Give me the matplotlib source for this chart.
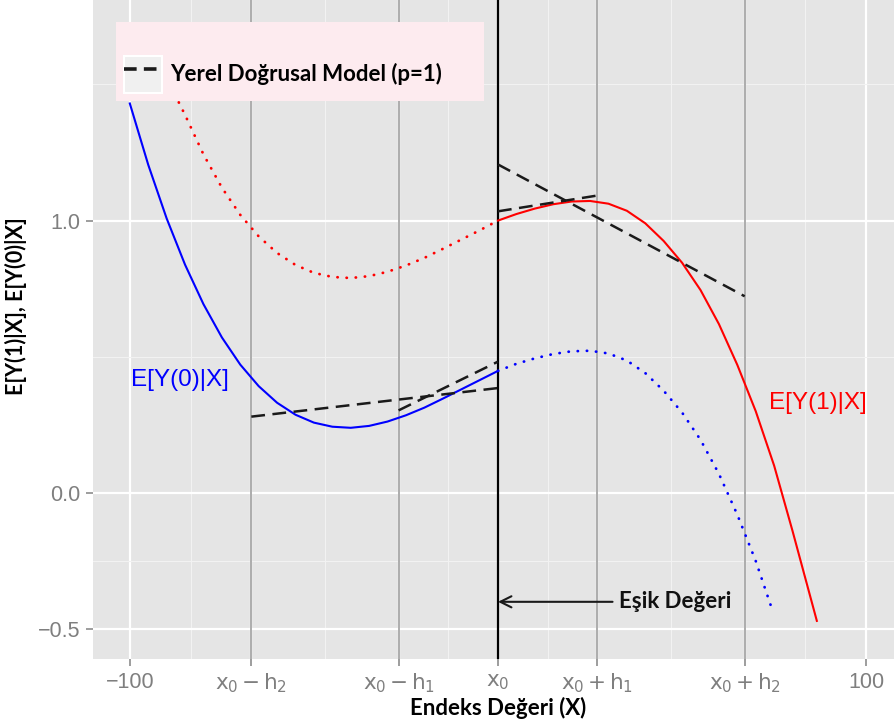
"""Local linear regression discontinuity sketch: potential outcome curves and fits."""

import matplotlib

matplotlib.use("Agg")
import numpy as np
from matplotlib import pyplot
from matplotlib.lines import Line2D
from matplotlib.patches import Patch
from matplotlib.legend_handler import HandlerTuple

# E[Y(0)|X], observed left of the cutoff
y0_left_x = [-100, -95, -90, -85, -80, -75, -70, -65, -60, -55, -50,
             -45, -40, -35, -30, -25, -20, -15, -10, -5, 0]
y0_left_y = [1.43, 1.205, 1.008, 0.838, 0.693, 0.571, 0.471, 0.392, 0.331, 0.287, 0.258,
             0.243, 0.239, 0.246, 0.262, 0.285, 0.313, 0.346, 0.38, 0.414, 0.448]

# E[Y(0)|X], counterfactual right of the cutoff
y0_right_x = [0, 5, 10, 15, 20, 25, 30, 35, 40, 45, 50, 55, 60, 65, 70, 74.5]
y0_right_y = [0.448, 0.474, 0.494, 0.51, 0.52, 0.522, 0.512, 0.486, 0.44, 0.375,
              0.295, 0.195, 0.07, -0.08, -0.25, -0.43]

# E[Y(1)|X], counterfactual left of the cutoff
y1_left_x = [-86.7, -85, -80, -75, -70, -65, -60, -55, -50, -45,
             -40, -35, -30, -25, -20, -15, -10, -5, 0]
y1_left_y = [1.434, 1.388, 1.243, 1.121, 1.021, 0.942, 0.881, 0.837, 0.808, 0.793,
             0.789, 0.796, 0.812, 0.835, 0.863, 0.896, 0.93, 0.964, 1.0]

# E[Y(1)|X], observed right of the cutoff
y1_right_x = [0, 5, 10, 15, 20, 25, 30, 35, 40, 45, 50, 55, 60, 65, 70, 75, 80, 85, 86.6]
y1_right_y = [1.0, 1.024, 1.044, 1.06, 1.07, 1.072, 1.062, 1.036, 0.99, 0.925, 0.845,
              0.745, 0.62, 0.47, 0.3, 0.1, -0.14, -0.39, -0.47]

# local linear fits (start x, start y, end x, end y)
fits = [
    (-67, 0.28, 0, 0.385),
    (-27, 0.303, 0, 0.482),
    (0, 1.206, 67, 0.722),
    (0, 1.034, 27, 1.092),
]

x_breaks = [-100, -67, -27, 0, 27, 67, 100]
x_labels = [
    "\u2212100",
    r"$\mathrm{x_0\,{-}\,h_2}$",
    r"$\mathrm{x_0\,{-}\,h_1}$",
    r"$\mathrm{x_0}$",
    r"$\mathrm{x_0\,{+}\,h_1}$",
    r"$\mathrm{x_0\,{+}\,h_2}$",
    "100",
]
bandwidth_x = [-67, -27, 27, 67]
y_breaks = [-0.5, 0.0, 1.0]
y_labels = ["\u22120.5", "0.0", "1.0"]
y_minor = [-0.25, 0.5, 1.5]

cutoff = 0
cutoff_label_y = -0.40

TICK_FONT = ["Liberation Sans Narrow", "Liberation Sans", "DejaVu Sans"]
BOLD_FONT = ["Lato", "DejaVu Sans"]
CURVE_FONT = ["Liberation Sans", "DejaVu Sans"]

pyplot.rcParams["mathtext.fontset"] = "custom"
pyplot.rcParams["mathtext.rm"] = "Liberation Sans Narrow"
pyplot.rcParams["mathtext.it"] = "Liberation Sans Narrow"

fig = pyplot.figure(figsize=(8.94, 7.26), dpi=100)
ax = fig.add_axes([93 / 894, 67 / 726, 810 / 894, 659 / 726])
ax.set_facecolor("#E5E5E5")
for spine in ax.spines.values():
    spine.set_visible(False)

ax.set_xlim(-110, 110)
ax.set_ylim(-0.61, 1.81)

# ggplot-style grid: white majors, pale minors halfway between breaks
ax.set_xticks(x_breaks)
ax.set_xticklabels(x_labels)
ax.set_xticks(np.convolve(x_breaks, [0.5, 0.5], mode="valid"), minor=True)
ax.set_yticks(y_breaks)
ax.set_yticklabels(y_labels)
ax.set_yticks(y_minor, minor=True)
ax.grid(True, which="major", color="white", linewidth=1.6)
ax.grid(True, which="minor", color="#F2F2F2", linewidth=0.8)
ax.set_axisbelow(True)
ax.tick_params(which="minor", length=0)
ax.tick_params(which="major", color="#8C8C8C", length=5, width=1.2, pad=4,
               labelcolor="#7F7F7F", labelsize=15.5)
for lab in ax.get_xticklabels() + ax.get_yticklabels():
    lab.set_family(TICK_FONT)

for bx in bandwidth_x:
    ax.axvline(bx, color="#A6A6A6", linewidth=1.3, zorder=1)
ax.axvline(cutoff, color="black", linewidth=1.6, zorder=1)

dotted = (0, (0.1, 3.2))
ax.plot(y0_left_x, y0_left_y, color="#0000FF", linewidth=1.5, zorder=3)
ax.plot(y0_right_x, y0_right_y, color="#0000FF", linewidth=2.0, linestyle=dotted,
        dash_capstyle="round", zorder=3)
ax.plot(y1_left_x, y1_left_y, color="#FF0000", linewidth=2.0, linestyle=dotted,
        dash_capstyle="round", zorder=3)
ax.plot(y1_right_x, y1_right_y, color="#FF0000", linewidth=1.5, zorder=3)

for x_a, y_a, x_b, y_b in fits:
    ax.plot([x_a, x_b], [y_a, y_b], color="#1A1A1A", linewidth=1.8,
            dashes=(5.5, 3), zorder=4)

ax.text(-99.7, 0.415, "E[Y(0)|X]", color="#0000FF", fontsize=17.5,
        family=CURVE_FONT, ha="left", va="center")
ax.text(73.5, 0.33, "E[Y(1)|X]", color="#FF0000", fontsize=17.5,
        family=CURVE_FONT, ha="left", va="center")

ax.annotate(
    "E\u015fik De\u011feri",
    xy=(cutoff, cutoff_label_y),
    xytext=(33, cutoff_label_y),
    ha="left",
    va="center",
    fontsize=16,
    fontweight="bold",
    family=BOLD_FONT,
    color="#111111",
    arrowprops=dict(arrowstyle="->", color="#1A1A1A", linewidth=1.5,
                    shrinkA=3, shrinkB=0, mutation_scale=20),
)

ax.set_xlabel("Endeks De\u011feri (X)", fontsize=16, fontweight="bold",
              family=BOLD_FONT, labelpad=1)
ax.set_ylabel("E[Y(1)|X], E[Y(0)|X]", fontsize=15.5, fontweight="bold",
              family=BOLD_FONT)
ax.yaxis.set_label_coords(-0.081, 0.535)

key = (Patch(facecolor="#F0F0F0", edgecolor="white", linewidth=1.5),
       Line2D([], [], color="#1A1A1A", linewidth=2.6, dashes=(3.5, 2)))
leg = ax.legend(
    [key],
    ["Yerel Do\u011frusal Model (p=1)"],
    handler_map={tuple: HandlerTuple(ndivide=1, pad=0)},
    title=" ",
    loc="upper left",
    mode="expand",
    bbox_to_anchor=(116 / 894, 625 / 726, 368 / 894, 79 / 726),
    bbox_transform=fig.transFigure,
    prop={"family": BOLD_FONT, "weight": "bold", "size": 16},
    title_fontsize=11,
    facecolor="#FDEBEF",
    edgecolor="none",
    framealpha=1,
    fancybox=False,
    handlelength=1.73,
    handleheight=2.19,
    handletextpad=0.35,
    borderpad=0.35,
    borderaxespad=0,
)
leg._legend_box.align = "left"

fig.savefig("out.png", dpi=100)
